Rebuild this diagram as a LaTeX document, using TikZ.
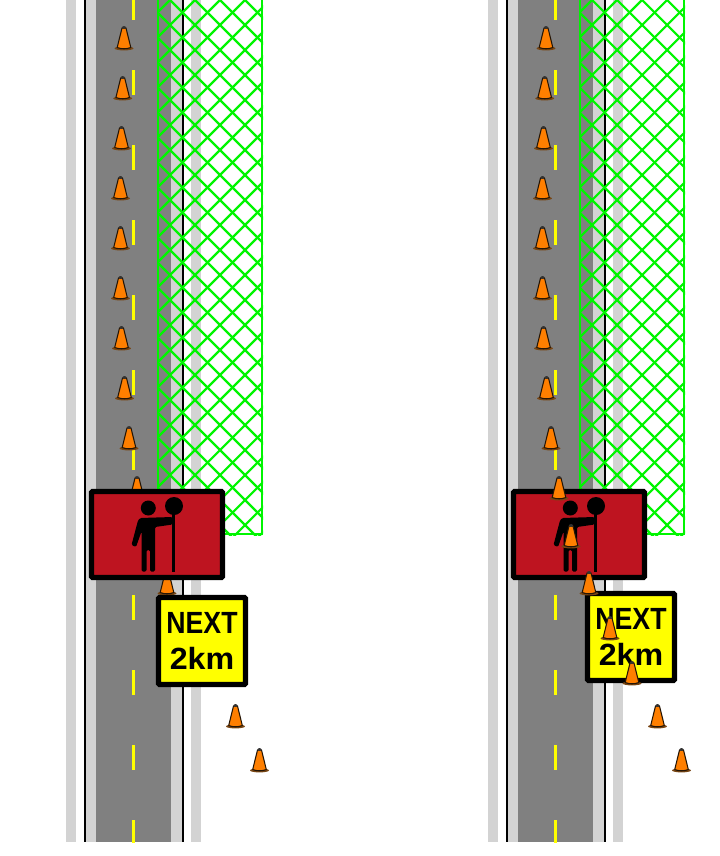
\documentclass[tikz,border=0pt]{standalone}
\usepackage{fontspec}
\setmainfont{Liberation Sans}

\definecolor{roadgray}{RGB}{128,128,128}
\definecolor{shouldergray}{RGB}{211,211,211}
\definecolor{fencegreen}{RGB}{0,245,0}
\definecolor{boardred}{RGB}{190,20,32}
\definecolor{signyellow}{RGB}{255,255,0}
\definecolor{coneorange}{RGB}{255,127,0}
\definecolor{conebrown}{RGB}{120,70,20}

\tikzset{
  shoulderstrip/.style={fill=shouldergray,draw=none},
  roadedge/.style={fill=black,draw=none},
  fenceline/.style={color=fencegreen,line width=1.6},
  boardnode/.style={draw=black,fill=boardred,line width=4.1,rounded corners=1,inner sep=0,
    minimum width=98.25pt,minimum height=64.5pt},
  nextnode/.style={draw=black,fill=signyellow,line width=4.1,rounded corners=1,inner sep=0,
    minimum width=65.25pt,minimum height=65.25pt,align=center,font=\fontsize{23}{26.6}\selectfont\bfseries},
  pics/trafficcone/.style={code={
    \fill [conebrown] (0,-0.6) ellipse (9.5 and 2);
    \draw [draw=black!70!conebrown,fill=coneorange,line width=0.8,line join=round] (-2,-21) -- (2,-21) -- (6.8,-1.5) .. controls (3,0.2) and (-3,0.2) .. (-6.8,-1.5) -- cycle;
    \fill [black!80] (0,-21.5) ellipse (2 and 1.4);
  }},
  pics/flagman/.style={code={
    \fill [black] (-8.7,-26.5) circle (7.5);
    \fill [black] (17,-28.5) circle (9);
    \fill [black] (14.8,-22) rectangle (18.3,37);
    \fill [black,rounded corners=1] (-17,-16.5) -- (15.5,-17.5) -- (15.5,-10) -- (-2,-7.5) -- (-2,37) -- (-7,37) -- (-7,15.5) -- (-10.5,15.5) -- (-10.5,37) -- (-15.5,37) -- (-15.5,-3) -- (-21,12.5) -- (-25.5,10.5) -- (-19,-14) -- cycle;
  }}
}

\newcommand{\conerowleft}{125/-2,124/49,122.7/99,121.5/149,120.5/199,120.5/249,120.5/299,121.5/349,124.5/399,129/449,137/499,149/547,167/594,188/639,210/684,235.5/727,259.5/771}

\begin{document}
\begin{tikzpicture}[x=0.75pt,y=0.75pt,yscale=-1,xscale=1]
\useasboundingbox (0,0) rectangle (719,856);

%Road and fence, once per panel
\foreach \panelshift in {0,422} {
\begin{scope}[xshift=\panelshift*0.75pt]
%Shoulders
\fill [shoulderstrip] (66,0) rectangle (76,842);
\fill [shoulderstrip] (86,0) rectangle (96,842);
\fill [roadgray] (96,0) rectangle (171,842);
\fill [shoulderstrip] (171,0) rectangle (181.5,842);
\fill [shoulderstrip] (191,0) rectangle (201,842);
%Edge lines
\fill [roadedge] (83.8,0) rectangle (86.2,842);
\fill [roadedge] (181.5,0) rectangle (184,842);
%Centre dashes
\begin{scope}
\clip (96,0) rectangle (171,842);
\foreach \dashy in {-5,70,...,820} {
\fill [signyellow] (132.3,\dashy) rectangle (135,\dashy+25);
}
\end{scope}
%Fence
\begin{scope}
\clip (157,0) rectangle (263,535);
\foreach \k in {-25,...,3} {
\draw [fenceline] (210+25*\k,-10) -- (765+25*\k,545);
}
\foreach \k in {-4,...,23} {
\draw [fenceline] (230+25*\k,-10) -- (-325+25*\k,545);
}
\end{scope}
\draw [fenceline,line width=1.8] (157.8,0) -- (157.8,534) -- (262,534) -- (262,0);
\end{scope}
}

%Left panel: cones under the signs
\foreach \conex/\coney in \conerowleft {
\path (\conex,\coney) pic [transform shape] {trafficcone};
}
\node [boardnode] (boardleft) at (157,534.5) {};
\path (boardleft.center) pic [transform shape] {flagman};
\node [nextnode] (nextleft) at (202,641) {\scalebox{0.87}[1]{NEXT}\\\scalebox{1.05}[1]{2km}};

%Right panel: cones over the signs
\node [boardnode] (boardright) at (579,534.5) {};
\path (boardright.center) pic [transform shape] {flagman};
\node [nextnode] (nextright) at (631,637) {\scalebox{0.87}[1]{NEXT}\\\scalebox{1.05}[1]{2km}};
\foreach \conex/\coney in \conerowleft {
\path (\conex+422,\coney) pic [transform shape] {trafficcone};
}

\end{tikzpicture}
\end{document}
